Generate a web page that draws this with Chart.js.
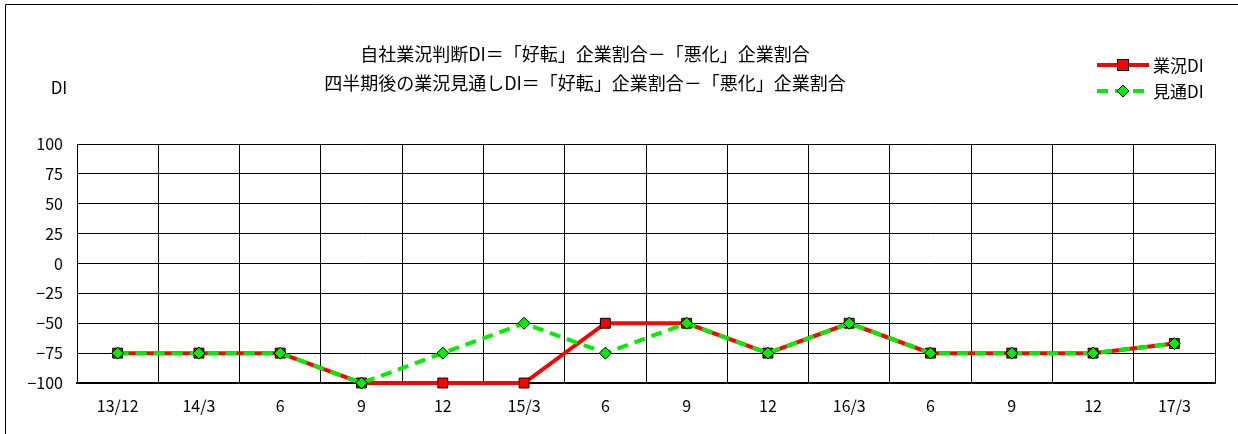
<!DOCTYPE html>
<html>
<head>
<meta charset="utf-8">
<script src="https://cdn.jsdelivr.net/npm/chart.js@4"></script>
<style>
  html, body { margin: 0; padding: 0; background: #fff; }
  #wrap { width: 1238px; height: 434px; position: relative; }
</style>
</head>
<body>
<div id="wrap"><canvas id="Grafica1" width="1238" height="434"></canvas></div>
<script>
// 四半期ラベル
const periodos = ['13/12', '14/3', '6', '9', '12', '15/3', '6', '9', '12', '16/3', '6', '9', '12', '17/3'];
// 業況DI
const gyokyoDI = [-75, -75, -75, -100, -100, -100, -50, -50, -75, -50, -75, -75, -75, -67];
// 見通DI
const mitoshiDI = [-75, -75, -75, -100, -75, -50, -75, -50, -75, -50, -75, -75, -75, -67];
const tituloLineas = ['自社業況判断DI＝「好転」企業割合－「悪化」企業割合', '四半期後の業況見通しDI＝「好転」企業割合－「悪化」企業割合'];
const leyendas = ['業況DI', '見通DI'];

const fuente = '"Noto Sans CJK JP", "Noto Sans", sans-serif';

// titulo, etiqueta DI, leyenda y marco exterior
const extras = {
  id: 'extras',
  afterDraw(chart) {
    const ctx = chart.ctx;
    ctx.save();
    // marco (solo arriba e izquierda, como en la imagen)
    ctx.strokeStyle = '#000';
    ctx.lineWidth = 1;
    ctx.beginPath();
    ctx.moveTo(5.5, 434);
    ctx.lineTo(5.5, 4.5);
    ctx.lineTo(1238, 4.5);
    ctx.stroke();

    ctx.fillStyle = '#000';
    ctx.font = '18px ' + fuente;
    ctx.textAlign = 'center';
    ctx.textBaseline = 'middle';
    ctx.fillText(tituloLineas[0], 585, 54);
    ctx.fillText(tituloLineas[1], 585, 83);

    ctx.font = '17px ' + fuente;
    ctx.fillText('DI', 59, 88);

    // leyenda
    const ys = [65, 91];
    chart.data.datasets.forEach((ds, i) => {
      const y = ys[i];
      ctx.strokeStyle = ds.borderColor;
      ctx.lineWidth = ds.borderWidth;
      ctx.setLineDash(ds.borderDash || []);
      ctx.beginPath();
      ctx.moveTo(1097, y);
      ctx.lineTo(1149, y);
      ctx.stroke();
      ctx.setLineDash([]);
      ctx.fillStyle = ds.pointBackgroundColor;
      ctx.strokeStyle = '#000';
      ctx.lineWidth = 1;
      if (ds.pointStyle === 'rect') {
        ctx.fillRect(1117.5, y - 5.5, 11, 11);
        ctx.strokeRect(1117.5, y - 5.5, 11, 11);
      } else {
        ctx.beginPath();
        ctx.moveTo(1123, y - 6);
        ctx.lineTo(1129, y);
        ctx.lineTo(1123, y + 6);
        ctx.lineTo(1117, y);
        ctx.closePath();
        ctx.fill();
        ctx.stroke();
      }
      ctx.fillStyle = '#000';
      ctx.font = '17px ' + fuente;
      ctx.textAlign = 'left';
      ctx.fillText(ds.label, 1153, y + 1);
    });
    ctx.restore();
  }
};

const chart1 = new Chart(document.getElementById('Grafica1'), {
  type: 'line',
  data: {
    labels: periodos,
    datasets: [{
      label: leyendas[0],
      data: gyokyoDI,
      borderColor: '#ff0000',
      borderWidth: 4,
      pointStyle: 'rect',
      pointRadius: 7,
      pointBackgroundColor: '#ff0000',
      pointBorderColor: '#000',
      pointBorderWidth: 1,
      tension: 0,
      clip: false,
      order: 1
    }, {
      label: leyendas[1],
      data: mitoshiDI,
      borderColor: '#00ee00',
      borderWidth: 4,
      borderDash: [11, 7],
      pointStyle: 'rectRot',
      pointRadius: 6,
      pointBackgroundColor: '#00ee00',
      pointBorderColor: '#000',
      pointBorderWidth: 1,
      tension: 0,
      clip: false,
      order: 0
    }]
  },
  options: {
    responsive: false,
    animation: false,
    devicePixelRatio: 1,
    layout: { padding: { top: 144, left: 5, right: 23, bottom: 0 } },
    plugins: { legend: { display: false }, tooltip: { enabled: false }, title: { display: false } },
    scales: {
      x: {
        offset: true,
        grid: { offset: true, color: '#000', lineWidth: 1, drawTicks: false },
        border: { color: '#000', width: 2 },
        ticks: { color: '#000', font: { family: fuente, size: 16 }, padding: 13, maxRotation: 0, autoSkip: false },
        afterFit: (s) => { s.height = 51; }
      },
      y: {
        min: -100,
        max: 100,
        grid: { color: '#000', lineWidth: 1, drawTicks: false },
        border: { color: '#000', width: 1 },
        ticks: {
          stepSize: 25,
          color: '#000',
          font: { family: fuente, size: 16 },
          padding: 14,
          callback: (v) => String(v).replace('-', '−')
        },
        afterFit: (s) => { s.width = 72; }
      }
    }
  },
  plugins: [extras]
});
</script>
</body>
</html>
